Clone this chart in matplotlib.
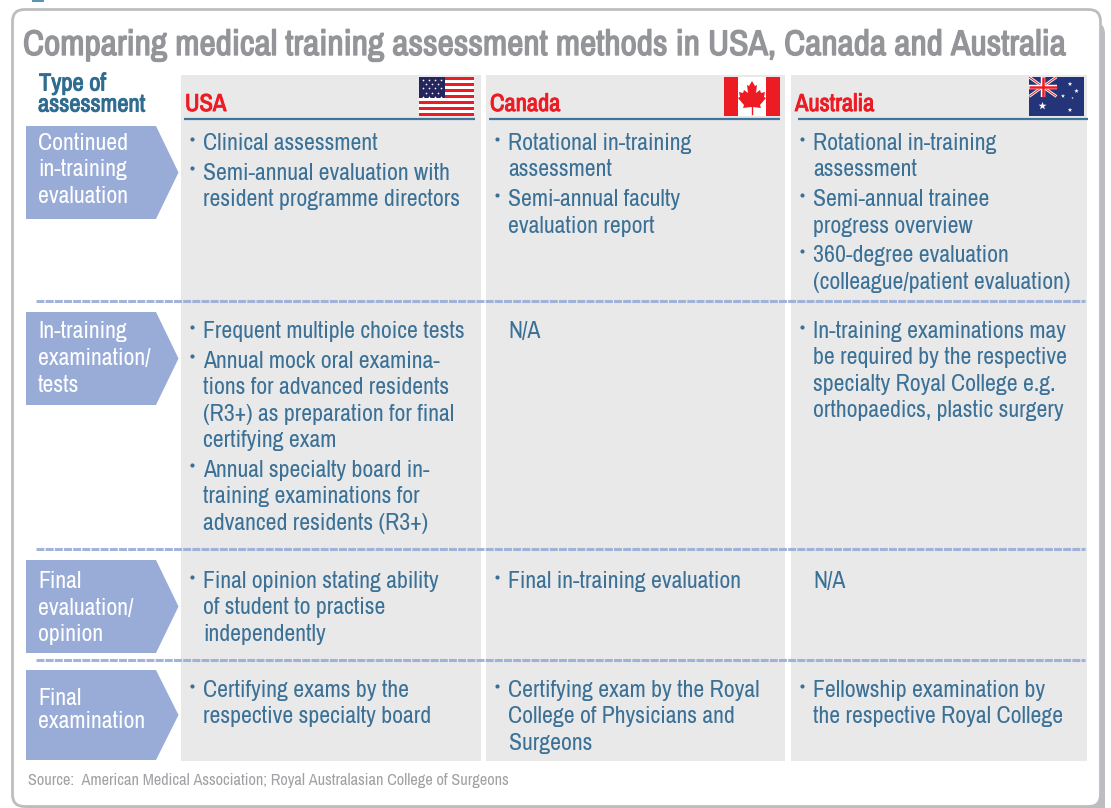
import matplotlib
matplotlib.use("Agg")
import matplotlib.pyplot as plt
import matplotlib.patheffects as pe
from matplotlib import font_manager as fm
from matplotlib.patches import FancyBboxPatch, Polygon, Rectangle
from matplotlib.textpath import TextPath
from matplotlib.font_manager import FontProperties

installed = {f.name for f in fm.fontManager.ttflist}
FONT = next((n for n in ['Archivo Narrow', 'Roboto Condensed', 'Liberation Sans Narrow', 'Roboto'] if n in installed), 'DejaVu Sans')
plt.rcParams['font.family'] = [FONT, 'DejaVu Sans']

TITLE = "Comparing medical training assessment methods in USA, Canada and Australia"
HEADER = ["Type of", "assessment"]
COUNTRIES = ["USA", "Canada", "Australia"]
ROW_LABELS = [
    ["Continued", "in-training", "evaluation"],
    ["In-training", "examination/", "tests"],
    ["Final", "evaluation/", "opinion"],
    ["Final", "examination"],
]
USA = [
    [["Clinical assessment"], ["Semi-annual evaluation with", "resident programme directors"]],
    [["Frequent multiple choice tests"],
     ["Annual mock oral examina-", "tions for advanced residents", "(R3+) as preparation for final", "certifying exam"],
     ["Annual specialty board in-", "training examinations for", "advanced residents (R3+)"]],
    [["Final opinion stating ability", "of student to practise", "independently"]],
    [["Certifying exams by the", "respective specialty board"]],
]
CANADA = [
    [["Rotational in-training", "assessment"], ["Semi-annual faculty", "evaluation report"]],
    "N/A",
    [["Final in-training evaluation"]],
    [["Certifying exam by the Royal", "College of Physicians and", "Surgeons"]],
]
AUSTRALIA = [
    [["Rotational in-training", "assessment"], ["Semi-annual trainee", "progress overview"],
     ["360-degree evaluation", "(colleague/patient evaluation)"]],
    [["In-training examinations may", "be required by the respective", "specialty Royal College e.g.", "orthopaedics, plastic surgery"]],
    "N/A",
    [["Fellowship examination by", "the respective Royal College"]],
]
SOURCE = "Source:  American Medical Association; Royal Australasian College of Surgeons"

TXT = '#3b7196'; RED = '#ed1c24'; GREY = '#e9e9ea'; ARROW = '#99acd8'; BORDER = '#bcbdc0'

def fit(text, px):
    """font size (pt) at which text is px wide at 100 dpi"""
    w = TextPath((0, 0), text, size=10, prop=FontProperties(family=FONT)).get_extents().width
    return 10 * px / w * 0.72

def bold(color, lw):
    return [pe.withStroke(linewidth=lw, foreground=color)]

BODY = fit("Semi-annual evaluation with", 245)
TITLE_FS = fit(TITLE, 1041)
HEAD_FS = fit("assessment", 106)
COUNTRY_FS = fit("Australia", 79)
SOURCE_FS = fit(SOURCE, 478)

fig = plt.figure(figsize=(11.11, 8.08), dpi=100)
ax = fig.add_axes([0, 0, 1, 1])
ax.set_xlim(0, 1111); ax.set_ylim(808, 0); ax.axis('off')

ax.add_patch(Rectangle((32, 0), 12, 1.5, fc='#5b93b8', ec='none'))

# panel with shadow
ax.add_patch(FancyBboxPatch((26, 22), 1079, 800, boxstyle="round,pad=0,rounding_size=12",
                            fc=BORDER, ec='none', zorder=0.5))
ax.add_patch(FancyBboxPatch((12.5, 9.5), 1088, 797, boxstyle="round,pad=0,rounding_size=12",
                            fc='white', ec=BORDER, lw=2.0, zorder=1))

ax.text(23, 45, TITLE, fontsize=TITLE_FS, color='#939598', va='center', ha='left', zorder=5,
        path_effects=bold('#939598', 1.0))

cols = [(181, 481), (486, 785), (791, 1087)]
rules = [(184, 475), (489, 780), (798, 1088)]
for (a, b) in cols:
    ax.add_patch(Rectangle((a, 75), b - a, 686, fc=GREY, ec='none', zorder=2))
for (a, b) in rules:
    ax.plot([a, b], [119, 119], color='#3f7599', lw=1.6, zorder=4, solid_capstyle='butt')

for i, t in enumerate(HEADER):
    ax.text(38 + (1 if i == 0 else 0), [84, 105][i], t, fontsize=HEAD_FS, color='#2f6c90', va='center', zorder=5,
            path_effects=bold('#2f6c90', 0.7))
for name, x in zip(COUNTRIES, [185, 490, 795]):
    ax.text(x, 104.5, name, fontsize=COUNTRY_FS, color=RED, va='center', zorder=5,
            path_effects=bold(RED, 0.7))

def us_flag(x, y, w, h):
    n = 13
    for i in range(n):
        ax.add_patch(Rectangle((x, y + i * h / n), w, h / n + .2, fc=RED if i % 2 == 0 else 'white', ec='none', zorder=3))
    ax.add_patch(Rectangle((x, y), w * .47, h * 7 / 13, fc='#25265e', ec='none', zorder=3.1))
    xs, ys = [], []
    for r in range(5):
        for c in range(4 if r % 2 == 0 else 3):
            xs.append(x + 3.5 + c * 6 + (3 if r % 2 else 0)); ys.append(y + 3 + r * 4.2)
    ax.scatter(xs, ys, s=1.5, c='white', linewidths=0, zorder=3.2)

def ca_flag(x, y, w, h):
    ax.add_patch(Rectangle((x, y), w, h, fc='white', ec='none', zorder=3))
    ax.add_patch(Rectangle((x, y), w * .25, h, fc=RED, ec='none', zorder=3.1))
    ax.add_patch(Rectangle((x + w * .75, y), w * .25, h, fc=RED, ec='none', zorder=3.1))
    cx = x + w / 2
    half = [(0, 4), (3, 9), (5, 8), (4, 16), (8, 13), (9, 16), (13, 15), (12, 20), (14, 21), (8, 28), (9, 31), (1, 30)]
    pts = [(cx + a, y + b) for a, b in half] + [(cx - a, y + b) for a, b in reversed(half)]
    ax.add_patch(Polygon(pts, fc=RED, ec='none', zorder=3.2))
    ax.plot([cx, cx], [y + 29, y + 37], color=RED, lw=1, zorder=3.2)

def au_flag(x, y, w, h):
    ax.add_patch(Rectangle((x, y), w, h, fc='#243478', ec='none', zorder=3))
    uw, uh = w / 2, h / 2
    for (p, q) in [((x, y), (x + uw, y + uh)), ((x, y + uh), (x + uw, y))]:
        ax.plot(*zip(p, q), color='white', lw=2.0, zorder=3.2, solid_capstyle='butt')
        ax.plot(*zip(p, q), color=RED, lw=0.7, zorder=3.3, solid_capstyle='butt')
    ax.plot([x, x + uw], [y + uh / 2] * 2, color='white', lw=3.2, zorder=3.4, solid_capstyle='butt')
    ax.plot([x + uw / 2] * 2, [y, y + uh], color='white', lw=3.2, zorder=3.4, solid_capstyle='butt')
    ax.plot([x, x + uw], [y + uh / 2] * 2, color=RED, lw=1.8, zorder=3.5, solid_capstyle='butt')
    ax.plot([x + uw / 2] * 2, [y, y + uh], color=RED, lw=1.8, zorder=3.5, solid_capstyle='butt')
    sx = [x + 13.5, x + 41, x + 47.5, x + 34, x + 41, x + 43.5]
    sy = [y + 29, y + 7, y + 14, y + 19, y + 33, y + 21]
    ss = [36, 12, 12, 10, 12, 3]
    ax.scatter(sx, sy, s=ss, marker='*', c='white', linewidths=0, zorder=3.6)

us_flag(419, 77, 55, 39)
ca_flag(724, 77, 56, 39)
au_flag(1029, 77, 55, 39)

arrows = [(126, 219), (312, 405), (560, 653), (670, 760)]
label_y = [[143.5, 169.5, 196.5], [331.5, 358.5, 385.5], [581.5, 608.5, 634.5], [698.5, 721.5]]
for (top, bot), lines, ys in zip(arrows, ROW_LABELS, label_y):
    ax.add_patch(Polygon([(26, top), (156, top), (178.5, (top + bot) / 2), (156, bot), (26, bot)],
                         fc=ARROW, ec='none', zorder=3))
    for t, y in zip(lines, ys):
        ax.text(38, y, t, fontsize=BODY, color='white', va='center', zorder=5)

for y in [300.5, 548.5, 660]:
    ax.plot([36, 1085], [y, y], color=ARROW, lw=2.2, ls=(0, (2.6, 0.4)), zorder=4, alpha=.9)

row_y = [143.5, 331.5, 581.5, 690.5]
LINE, GAP = 26.4, 3.4
for col, dot_x, txt_x in [(USA, 191.5, 203), (CANADA, 497, 508.5), (AUSTRALIA, 802, 813)]:
    for cell, y0 in zip(col, row_y):
        if isinstance(cell, str):
            ax.text(txt_x, y0, cell, fontsize=BODY, color=TXT, va='center', zorder=5)
            continue
        y = y0
        for bullet in cell:
            ax.plot([dot_x], [y - 5], marker='o', ms=3, color=TXT, mew=0, zorder=5)
            for ln in bullet:
                ax.text(txt_x, y, ln, fontsize=BODY, color=TXT, va='center', zorder=5)
                y += LINE
            y += GAP

ax.text(28, 780, SOURCE, fontsize=SOURCE_FS, color='#a0a1a4', va='center', zorder=5)

fig.savefig("out.png", dpi=100)
